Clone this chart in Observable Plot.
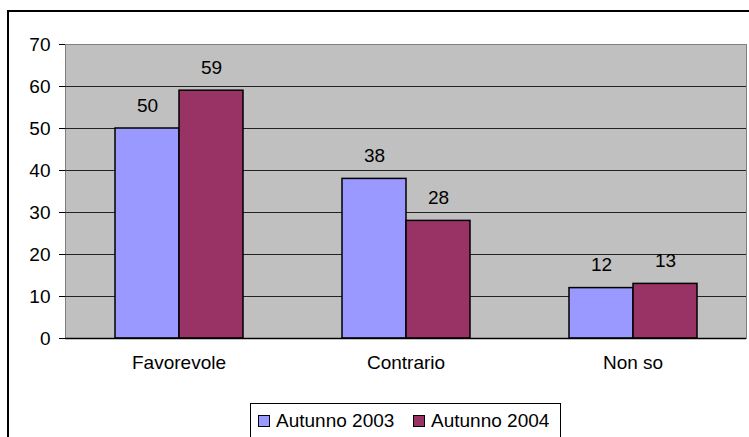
<!DOCTYPE html>
<html>
<head>
<meta charset="utf-8">
<script src="https://cdn.jsdelivr.net/npm/d3@7"></script>
<script src="https://cdn.jsdelivr.net/npm/@observablehq/plot@0.6"></script>
<style>
  html, body { margin: 0; padding: 0; background: #fff; overflow: hidden; }
  #wrap { position: relative; width: 749px; height: 437px; overflow: hidden; font-family: Arial, "Liberation Sans", sans-serif; }
  #chart { position: absolute; left: 0; top: 0; }
  #border { position: absolute; left: 7px; top: 10px; width: 800px; height: 500px; border: 2px solid #000; pointer-events: none; }
  #legend { position: absolute; left: 250px; top: 403px; width: 309px; height: 60px; border: 1px solid #000; background: #fff; font-size: 19px; color: #000; }
  #legend .item { position: absolute; top: 6px; white-space: nowrap; line-height: 22px; }
  #legend .sw { display: inline-block; width: 10px; height: 10px; border: 1px solid #000; margin-right: 6px; vertical-align: 0px; }
</style>
</head>
<body>
<div id="wrap">
  <div id="chart"></div>
  <div id="legend"></div>
  <div id="border"></div>
</div>
<script>
const categories = ["Favorevole", "Contrario", "Non so"];
const series = ["Autunno 2003", "Autunno 2004"];
const values2003 = [50, 38, 12];
const values2004 = [59, 28, 13];
const colors = ["#9999ff", "#993366"];
const yTicks = [0, 10, 20, 30, 40, 50, 60, 70];

const data = [];
categories.forEach((c, i) => {
  data.push({cat: c, series: series[0], value: values2003[i]});
  data.push({cat: c, series: series[1], value: values2004[i]});
});

const chart = Plot.plot({
  width: 749,
  height: 400,
  marginLeft: 64,
  marginRight: 2,
  marginTop: 44,
  marginBottom: 62,
  style: {fontFamily: "Arial, 'Liberation Sans', sans-serif", fontSize: "19px", background: "none", color: "#000"},
  fx: {domain: categories, padding: 0, axis: null},
  x: {domain: series, paddingInner: 0, paddingOuter: 0.75, axis: null},
  y: {domain: [0, 70], axis: null},
  color: {domain: series, range: colors},
  marks: [
    Plot.frame({facet: "super", fill: "#c0c0c0", stroke: "#808080"}),
    Plot.ruleY(yTicks.filter(t => t > 0 && t < 70), {stroke: "#222", strokeWidth: 1}),
    Plot.barY(data, {fx: "cat", x: "series", y: "value", fill: "series", stroke: "#000", strokeWidth: 1.5}),
    Plot.text(data, {fx: "cat", x: "series", y: "value", text: d => String(d.value), dy: -23, fontSize: 19, fill: "#000"}),
    Plot.ruleY([0], {stroke: "#000", strokeWidth: 1.5}),
    Plot.axisY({ticks: yTicks, label: null, tickSize: 6, tickPadding: 9, fontSize: 19, stroke: "#000"}),
    Plot.text(categories, {fx: d => d, text: d => d, frameAnchor: "bottom", dy: 30, fontSize: 19, fill: "#000"})
  ]
});
document.getElementById("chart").appendChild(chart);

const legend = document.getElementById("legend");
const legendLefts = [7, 162];
series.forEach((s, i) => {
  const item = document.createElement("div");
  item.className = "item";
  item.style.left = legendLefts[i] + "px";
  const sw = document.createElement("span");
  sw.className = "sw";
  sw.style.background = colors[i];
  item.appendChild(sw);
  item.appendChild(document.createTextNode(s));
  legend.appendChild(item);
});
</script>
</body>
</html>
